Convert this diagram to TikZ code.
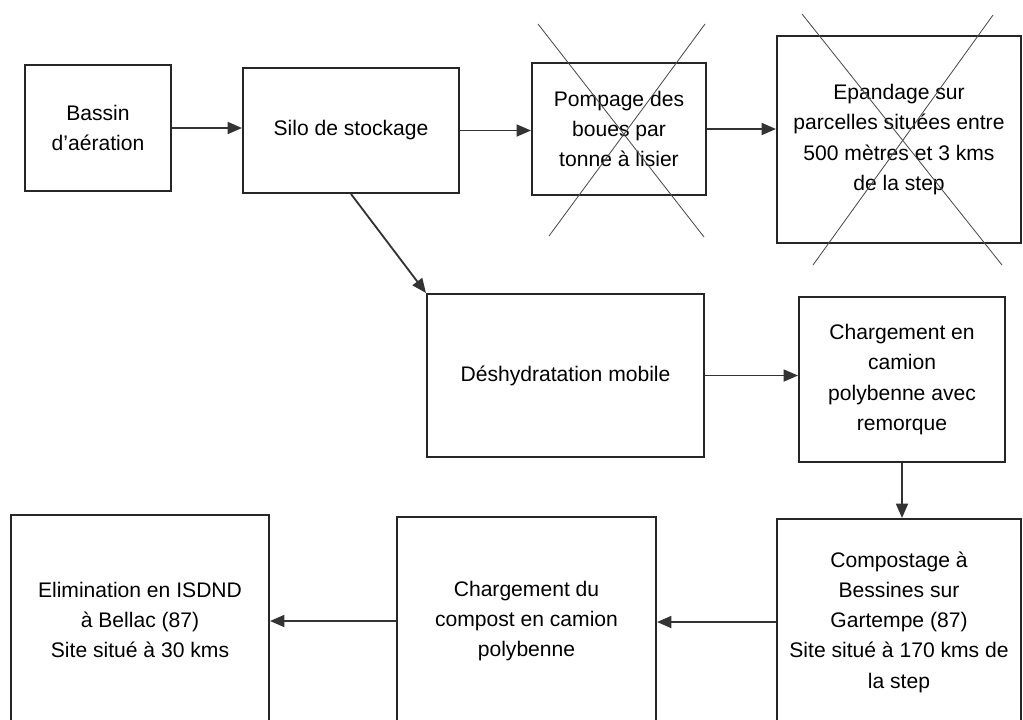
\documentclass[tikz,border=0pt]{standalone}
\usepackage{fontspec}
\setmainfont{Liberation Sans}
\usetikzlibrary{arrows.meta}

\begin{document}
\begin{tikzpicture}[
  x=0.025cm, y=-0.025cm,
  etape/.style={draw=black!85, line width=1.4pt, align=center, inner sep=2pt, font=\fontsize{15}{21.5}\selectfont},
  flux/.style={-{Triangle[length=3.6mm, width=3mm]}, draw=black!80, line width=1.3pt},
  rature/.style={draw=black!70, line width=0.6pt}
]
  \clip (0,0) rectangle (1023,719);
  % ligne du haut
  \node[etape, minimum width=3.65cm, minimum height=3.15cm] (bassin) at (98,128) {Bassin\\d’aération};
  \node[etape, minimum width=5.4cm, minimum height=3.125cm] (silo) at (351,130.5) {Silo de stockage};
  \node[etape, minimum width=4.35cm, minimum height=3.3cm] (pompage) at (619,129) {Pompage des\\boues par\\tonne à lisier};
  \node[etape, minimum width=6.1cm, minimum height=5.175cm] (epandage) at (899,139.5) {Epandage sur\\parcelles situées entre\\500 mètres et 3 kms\\de la step};
  % ligne du milieu
  \node[etape, minimum width=6.925cm, minimum height=4.075cm] (deshy) at (565.5,375.5) {Déshydratation mobile};
  \node[etape, minimum width=5.15cm, minimum height=4.125cm] (camion) at (902,379.5) {Chargement en\\camion\\polybenne avec\\remorque};
  % ligne du bas
  \node[etape, minimum width=6.1cm, minimum height=5.15cm] (compost) at (899,622) {Compostage à\\Bessines sur\\Gartempe (87)\\Site situé à 170 kms de\\la step};
  \node[etape, minimum width=6.475cm, minimum height=5.2cm] (transport) at (526.5,621) {Chargement du\\compost en camion\\polybenne};
  \node[etape, minimum width=6.45cm, minimum height=5.25cm] (isdnd) at (140,620) {Elimination en ISDND\\à Bellac (87)\\Site situé à 30 kms};

  % filieres barrees
  \draw[rature] (538,24) -- (704,237);
  \draw[rature] (705,24) -- (549,236);
  \draw[rature] (802,14) -- (1002,265);
  \draw[rature] (993,15) -- (813,265);

  % fleches
  \draw[flux] (bassin.east) -- (bassin.east -| silo.west);
  \draw[flux] (silo.east) -- (silo.east -| pompage.west);
  \draw[flux] (pompage.east) -- (pompage.east -| epandage.west);
  \draw[flux] (silo.south) -- (deshy.north west);
  \draw[flux] (deshy.east) -- (deshy.east -| camion.west);
  \draw[flux] (camion.south) -- (camion.south |- compost.north);
  \draw[flux] (compost.west) -- (compost.west -| transport.east);
  \draw[flux] (transport.west) -- (transport.west -| isdnd.east);
\end{tikzpicture}
\end{document}
